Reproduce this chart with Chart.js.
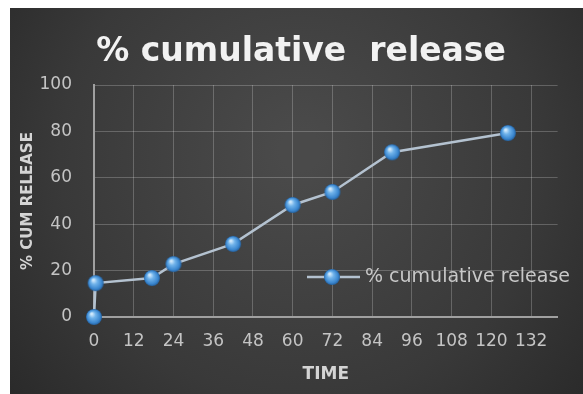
<!DOCTYPE html>
<html>
<head>
<meta charset="utf-8">
<script src="https://cdn.jsdelivr.net/npm/chart.js@4/dist/chart.umd.min.js"></script>
<style>
  html, body { margin: 0; padding: 0; background: #fff; }
  #wrap { width: 583px; height: 394px; }
</style>
</head>
<body>
<div id="wrap"><canvas id="chart" width="583" height="394"></canvas></div>
<script>
const timeValues = [0, 0.5, 17.5, 24, 42, 60, 72, 90, 125];
const releaseValues = [0, 14.6, 16.8, 22.8, 31.5, 48.3, 53.9, 71, 79.3];
const xTicks = [0, 12, 24, 36, 48, 60, 72, 84, 96, 108, 120, 132];
const yTicks = [0, 20, 40, 60, 80, 100];
const seriesLabel = '% cumulative release';
const chartTitle = '   % cumulative  release';
const xTitle = 'TIME';
const yTitle = '% CUM RELEASE';

// blue glossy ball used for the markers
function makeBall(r) {
  const c = document.createElement('canvas');
  c.width = c.height = r * 2 + 2;
  const g = c.getContext('2d');
  const cx = r + 1, cy = r + 1;
  const grad = g.createRadialGradient(cx - r * 0.3, cy - r * 0.4, r * 0.1, cx, cy, r);
  grad.addColorStop(0, '#cfe8fb');
  grad.addColorStop(0.35, '#6fb2ea');
  grad.addColorStop(0.8, '#3a86cf');
  grad.addColorStop(1, '#25609c');
  g.fillStyle = grad;
  g.beginPath();
  g.arc(cx, cy, r, 0, Math.PI * 2);
  g.fill();
  return c;
}
const ball = makeBall(8);

const backdrop = {
  id: 'backdrop',
  beforeDraw(chart) {
    const ctx = chart.ctx;
    ctx.save();
    ctx.fillStyle = '#ffffff';
    ctx.fillRect(0, 0, chart.width, chart.height);
    const grad = ctx.createRadialGradient(300, 150, 20, 300, 170, 420);
    grad.addColorStop(0, '#4a4a4a');
    grad.addColorStop(0.55, '#393939');
    grad.addColorStop(1, '#242424');
    ctx.fillStyle = grad;
    ctx.fillRect(10, 8, chart.width - 10, chart.height - 8);
    ctx.restore();
  }
};

const insideLegend = {
  id: 'insideLegend',
  afterDatasetsDraw(chart) {
    const ctx = chart.ctx;
    const y = 277;
    ctx.save();
    ctx.strokeStyle = '#b4c2d0';
    ctx.lineWidth = 2.5;
    ctx.beginPath();
    ctx.moveTo(307, y);
    ctx.lineTo(360, y);
    ctx.stroke();
    ctx.drawImage(ball, 332 - ball.width / 2, y - ball.height / 2);
    ctx.fillStyle = '#c8c8c8';
    ctx.font = '19px "DejaVu Sans"';
    ctx.textBaseline = 'middle';
    ctx.fillText(chart.data.datasets[0].label, 365, y);
    ctx.restore();
  }
};

new Chart(document.getElementById('chart'), {
  type: 'scatter',
  data: {
    datasets: [{
      label: seriesLabel,
      data: timeValues.map((t, i) => ({ x: t, y: releaseValues[i] })),
      showLine: true,
      clip: false,
      borderColor: '#b4c2d0',
      borderWidth: 2.5,
      pointStyle: ball,
      pointRadius: 8,
      pointHoverRadius: 8
    }]
  },
  options: {
    responsive: false,
    animation: false,
    events: [],
    layout: { padding: { left: 10, right: 25.4, top: 8, bottom: 0 } },
    plugins: {
      legend: { display: false },
      tooltip: { enabled: false },
      title: {
        display: true,
        text: chartTitle,
        color: '#f2f2f2',
        font: { family: 'DejaVu Sans', size: 33, weight: 'bold' },
        padding: { top: 25, bottom: 12.4 }
      }
    },
    scales: {
      x: {
        type: 'linear',
        min: 0,
        max: 140,
        afterFit(scale) { scale.height = 77; },
        afterBuildTicks(scale) { scale.ticks = xTicks.map(v => ({ value: v })); },
        ticks: {
          autoSkip: false,
          maxRotation: 0,
          padding: 14,
          color: '#c4c4c4',
          font: { family: 'DejaVu Sans', size: 17 }
        },
        grid: { color: 'rgba(255,255,255,0.22)', lineWidth: 1, drawTicks: false },
        border: { color: '#a0a0a0', width: 2 },
        title: {
          display: true,
          text: xTitle,
          color: '#d4d4d4',
          font: { family: 'DejaVu Sans', size: 17, weight: 'bold' },
          padding: { top: 0, bottom: 9 }
        }
      },
      y: {
        min: 0,
        max: 100,
        afterFit(scale) { scale.width = 84; },
        afterBuildTicks(scale) { scale.ticks = yTicks.map(v => ({ value: v })); },
        ticks: {
          padding: 22,
          color: '#c4c4c4',
          font: { family: 'DejaVu Sans', size: 17 }
        },
        grid: { color: 'rgba(255,255,255,0.22)', lineWidth: 1, drawTicks: false },
        border: { color: '#a0a0a0', width: 2 },
        title: {
          display: true,
          text: yTitle,
          color: '#d4d4d4',
          font: { family: 'DejaVu Sans', size: 15, weight: 'bold' },
          padding: { top: 9, bottom: 0 }
        }
      }
    }
  },
  plugins: [backdrop, insideLegend]
});
</script>
</body>
</html>
